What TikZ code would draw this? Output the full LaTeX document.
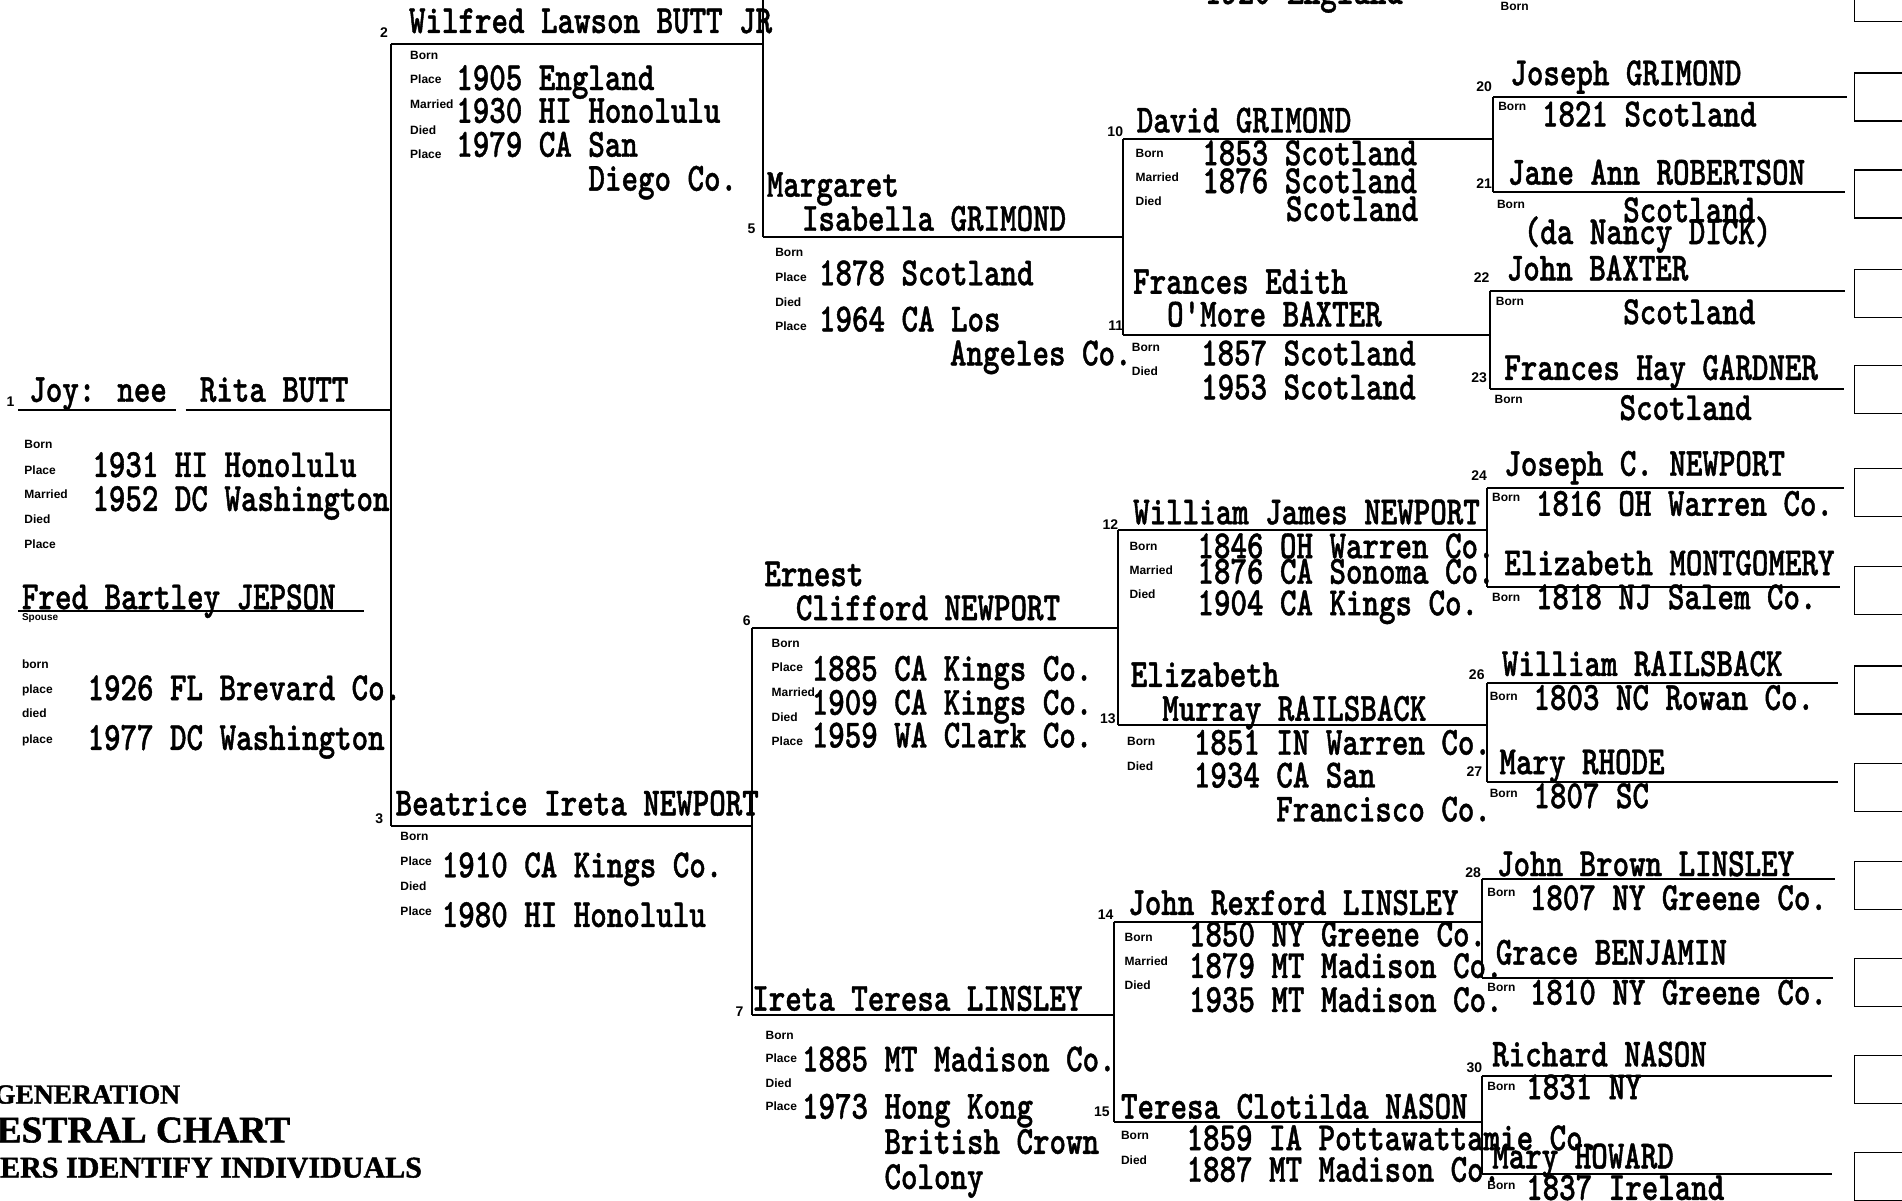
\documentclass[tikz,border=0pt]{standalone}
\usepackage{fontspec}
\usepackage{tikz}
\newfontfamily\twfam[Extension=.otf, FakeStretch=0.786, FakeBold=1]{lmmonolt10-bold}
\newfontfamily\labfam{Liberation Sans}
\newfontfamily\ttlfam[FakeBold=1.5]{Liberation Serif}
\newcommand{\twtext}{\twfam\fontsize{40pt}{40pt}\selectfont}
\newcommand{\labtext}{\labfam\bfseries\fontsize{12pt}{12pt}\selectfont}
\newcommand{\numtext}{\labfam\bfseries\fontsize{14pt}{14pt}\selectfont}
\tikzstyle{tw} = [font=\twtext, inner sep=0pt, anchor=mid west, yshift=-9pt]
\tikzstyle{lab} = [font=\labtext, inner sep=0pt, anchor=mid west]
\tikzstyle{idnum} = [font=\numtext, inner sep=0pt, anchor=mid east, yshift=-3pt]
\tikzstyle{chartline} = [line width=2pt]
\tikzstyle{refbox} = [draw, line width=1.5pt, minimum width=90pt, minimum height=48pt, inner sep=0pt, anchor=west]
\tikzstyle{titletext} = [font=\ttlfam\bfseries, inner sep=0pt, anchor=mid west, yshift=-6pt]

\begin{document}
\begin{tikzpicture}[x=1.213pt, y=-1.213pt]
\useasboundingbox (0,0) rectangle (1568,990);
\fill[white] (0,0) rectangle (1568,990);

% generation 1
\node (i1) [idnum] at (12,331) {1};
\node (n1) [tw] at (24,322) {Joy: nee\ \ Rita BUTT};
\coordinate (u1a) at (15,338);
\coordinate (u1b) at (145,338);
\coordinate (l1w) at (153,338);
\coordinate (l1e) at (322,338);
\node (k1a) [lab] at (20,368) {Born};
\node (k1b) [lab] at (20,389) {Place};
\node (k1c) [lab] at (20,409) {Married};
\node (k1d) [lab] at (20,430) {Died};
\node (k1e) [lab] at (20,450) {Place};
\node (d1a) [tw] at (76,384) {1931 HI Honolulu};
\node (d1b) [tw] at (76,412) {1952 DC Washington};
\node (nsp) [tw] at (18,493) {Fred Bartley JEPSON};
\coordinate (usa) at (15,504);
\coordinate (usb) at (300,504);
\node (ksp) [lab, font=\labfam\bfseries\fontsize{10pt}{10pt}\selectfont] at (18,510) {Spouse};
\node (ksa) [lab] at (18,549) {born};
\node (ksb) [lab] at (18,570) {place};
\node (ksc) [lab] at (18,590) {died};
\node (ksd) [lab] at (18,611) {place};
\node (dsa) [tw] at (72,568) {1926 FL Brevard Co.};
\node (dsb) [tw] at (72,609) {1977 DC Washington};

% generation 2
\node (i2) [idnum] at (320,27) {2};
\node (n2) [tw] at (337,18) {Wilfred Lawson BUTT JR};
\coordinate (l2w) at (322,36);
\coordinate (l2e) at (629,36);
\node (k2a) [lab] at (338,47) {Born};
\node (k2b) [lab] at (338,67) {Place};
\node (k2c) [lab] at (338,88) {Married};
\node (k2d) [lab] at (338,109) {Died};
\node (k2e) [lab] at (338,129) {Place};
\node (d2a) [tw] at (376,65) {1905 England};
\node (d2b) [tw] at (376,92) {1930 HI Honolulu};
\node (d2c) [tw] at (376,120) {1979 CA San};
\node (d2d) [tw] at (485,148) {Diego Co.};

\node (i3) [idnum] at (316,675) {3};
\node (n3) [tw] at (326,663) {Beatrice Ireta NEWPORT};
\coordinate (l3w) at (322,681);
\coordinate (l3e) at (620,681);
\node (k3a) [lab] at (330,691) {Born};
\node (k3b) [lab] at (330,712) {Place};
\node (k3c) [lab] at (330,732) {Died};
\node (k3d) [lab] at (330,753) {Place};
\node (d3a) [tw] at (364,714) {1910 CA Kings Co.};
\node (d3b) [tw] at (364,755) {1980 HI Honolulu};

% generation 3
\coordinate (l4w) at (629,-30);
\node (d4a) [tw] at (993,-6) {1920 England};

\node (n5a) [tw] at (632,153) {Margaret};
\node (n5b) [tw] at (661,181) {Isabella GRIMOND};
\node (i5) [idnum] at (623,188) {5};
\coordinate (l5w) at (629,195);
\coordinate (l5e) at (926,195);
\node (k5a) [lab] at (639,210) {Born};
\node (k5b) [lab] at (639,230) {Place};
\node (k5c) [lab] at (639,251) {Died};
\node (k5d) [lab] at (639,271) {Place};
\node (d5a) [tw] at (675,226) {1878 Scotland};
\node (d5b) [tw] at (675,264) {1964 CA Los};
\node (d5c) [tw] at (783,292) {Angeles Co.};

\node (n6a) [tw] at (630,474) {Ernest};
\node (n6b) [tw] at (656,502) {Clifford NEWPORT};
\node (i6) [idnum] at (619,511) {6};
\coordinate (l6w) at (620,518);
\coordinate (l6e) at (922,518);
\node (k6a) [lab] at (636,532) {Born};
\node (k6b) [lab] at (636,552) {Place};
\node (k6c) [lab] at (636,572) {Married};
\node (k6d) [lab] at (636,593) {Died};
\node (k6e) [lab] at (636,613) {Place};
\node (d6a) [tw] at (669,552) {1885 CA Kings Co.};
\node (d6b) [tw] at (669,580) {1909 CA Kings Co.};
\node (d6c) [tw] at (669,607) {1959 WA Clark Co.};

\node (n7) [tw] at (620,824) {Ireta Teresa LINSLEY};
\node (i7) [idnum] at (613,834) {7};
\coordinate (l7w) at (620,837);
\coordinate (l7e) at (918,837);
\node (k7a) [lab] at (631,855) {Born};
\node (k7b) [lab] at (631,874) {Place};
\node (k7c) [lab] at (631,895) {Died};
\node (k7d) [lab] at (631,914) {Place};
\node (d7a) [tw] at (661,874) {1885 MT Madison Co.};
\node (d7b) [tw] at (661,913) {1973 Hong Kong};
\node (d7c) [tw] at (729,942) {British Crown};
\node (d7d) [tw] at (729,971) {Colony};

% generation 4
\node (i10) [idnum] at (926,108) {10};
\node (n10) [tw] at (937,100) {David GRIMOND};
\coordinate (l10w) at (926,115);
\coordinate (l10e) at (1231,115);
\node (k10a) [lab] at (936,128) {Born};
\node (k10b) [lab] at (936,148) {Married};
\node (k10c) [lab] at (936,168) {Died};
\node (d10a) [tw] at (991,127) {1853 Scotland};
\node (d10b) [tw] at (991,150) {1876 Scotland};
\node (d10c) [tw] at (1060,173) {Scotland};

\node (n11a) [tw] at (934,233) {Frances Edith};
\node (n11b) [tw] at (962,260) {O'More BAXTER};
\node (i11) [idnum] at (926,268) {11};
\coordinate (l11w) at (926,276);
\coordinate (l11e) at (1228,276);
\node (k11a) [lab] at (933,288) {Born};
\node (k11b) [lab] at (933,308) {Died};
\node (d11a) [tw] at (990,292) {1857 Scotland};
\node (d11b) [tw] at (990,320) {1953 Scotland};

\node (i12) [idnum] at (922,432) {12};
\node (n12) [tw] at (934,423) {William James NEWPORT};
\coordinate (l12w) at (922,437);
\coordinate (l12e) at (1226,437);
\node (k12a) [lab] at (931,452) {Born};
\node (k12b) [lab] at (931,472) {Married};
\node (k12c) [lab] at (931,492) {Died};
\node (d12a) [tw] at (987,451) {1846 OH Warren Co.};
\node (d12b) [tw] at (987,472) {1876 CA Sonoma Co.};
\node (d12c) [tw] at (987,498) {1904 CA Kings Co.};

\node (n13a) [tw] at (932,557) {Elizabeth};
\node (n13b) [tw] at (958,585) {Murray RAILSBACK};
\node (i13) [idnum] at (920,592) {13};
\coordinate (l13w) at (922,598);
\coordinate (l13e) at (1226,598);
\node (k13a) [lab] at (929,613) {Born};
\node (k13b) [lab] at (929,633) {Died};
\node (d13a) [tw] at (984,613) {1851 IN Warren Co.};
\node (d13b) [tw] at (984,640) {1934 CA San};
\node (d13c) [tw] at (1052,668) {Francisco Co.};

\node (i14) [idnum] at (918,754) {14};
\node (n14) [tw] at (930,745) {John Rexford LINSLEY};
\coordinate (l14w) at (918,760);
\coordinate (l14e) at (1222,760);
\node (k14a) [lab] at (927,774) {Born};
\node (k14b) [lab] at (927,794) {Married};
\node (k14c) [lab] at (927,814) {Died};
\node (d14a) [tw] at (980,771) {1850 NY Greene Co.};
\node (d14b) [tw] at (980,797) {1879 MT Madison Co.};
\node (d14c) [tw] at (980,825) {1935 MT Madison Co.};

\node (i15) [idnum] at (915,916) {15};
\node (n15) [tw] at (924,913) {Teresa Clotilda NASON};
\coordinate (l15w) at (918,925);
\coordinate (l15e) at (1222,925);
\node (k15a) [lab] at (924,938) {Born};
\node (k15b) [lab] at (924,958) {Died};
\node (d15a) [tw] at (978,939) {1859 IA Pottawattamie Co.};
\node (d15b) [tw] at (978,965) {1887 MT Madison Co.};

% generation 5
\node (k19) [lab] at (1237,7) {Born};

\node (i20) [idnum] at (1230,71) {20};
\node (n20) [tw] at (1245,61) {Joseph GRIMOND};
\coordinate (l20w) at (1231,80);
\coordinate (l20e) at (1523,80);
\node (k20) [lab] at (1235,89) {Born};
\node (d20) [tw] at (1271,95) {1821 Scotland};

\node (i21) [idnum] at (1230,151) {21};
\node (n21) [tw] at (1243,143) {Jane Ann ROBERTSON};
\coordinate (l21w) at (1231,158);
\coordinate (l21e) at (1521,158);
\node (k21) [lab] at (1234,170) {Born};
\node (d21a) [tw] at (1338,174) {Scotland};
\node (d21b) [tw] at (1256,192) {(da Nancy DICK)};

\node (i22) [idnum] at (1228,229) {22};
\node (n22) [tw] at (1242,222) {John BAXTER};
\coordinate (l22w) at (1228,240);
\coordinate (l22e) at (1521,240);
\node (k22) [lab] at (1233,250) {Born};
\node (d22) [tw] at (1338,258) {Scotland};

\node (i23) [idnum] at (1226,311) {23};
\node (n23) [tw] at (1240,304) {Frances Hay GARDNER};
\coordinate (l23w) at (1228,321);
\coordinate (l23e) at (1520,321);
\node (k23) [lab] at (1232,331) {Born};
\node (d23) [tw] at (1335,337) {Scotland};

\node (i24) [idnum] at (1226,392) {24};
\node (n24) [tw] at (1240,383) {Joseph C. NEWPORT};
\coordinate (l24w) at (1226,402);
\coordinate (l24e) at (1520,402);
\node (k24) [lab] at (1230,412) {Born};
\node (d24) [tw] at (1266,416) {1816 OH Warren Co.};

\node (n25) [tw] at (1240,465) {Elizabeth MONTGOMERY};
\coordinate (l25w) at (1226,484);
\coordinate (l25e) at (1517,484);
\node (k25) [lab] at (1230,494) {Born};
\node (d25) [tw] at (1266,493) {1818 NJ Salem Co.};

\node (i26) [idnum] at (1224,556) {26};
\node (n26) [tw] at (1238,548) {William RAILSBACK};
\coordinate (l26w) at (1226,563);
\coordinate (l26e) at (1515,563);
\node (k26) [lab] at (1228,576) {Born};
\node (d26) [tw] at (1264,576) {1803 NC Rowan Co.};

\node (i27) [idnum] at (1222,636) {27};
\node (n27) [tw] at (1236,629) {Mary RHODE};
\coordinate (l27w) at (1226,645);
\coordinate (l27e) at (1515,645);
\node (k27) [lab] at (1228,656) {Born};
\node (d27) [tw] at (1264,657) {1807 SC};

\node (i28) [idnum] at (1221,719) {28};
\node (n28) [tw] at (1234,713) {John Brown LINSLEY};
\coordinate (l28w) at (1222,725);
\coordinate (l28e) at (1513,725);
\node (k28) [lab] at (1226,737) {Born};
\node (d28) [tw] at (1261,741) {1807 NY Greene Co.};

\node (n29) [tw] at (1233,786) {Grace BENJAMIN};
\coordinate (l29w) at (1222,806);
\coordinate (l29e) at (1511,806);
\node (k29) [lab] at (1226,816) {Born};
\node (d29) [tw] at (1261,819) {1810 NY Greene Co.};

\node (i30) [idnum] at (1222,880) {30};
\node (n30) [tw] at (1230,870) {Richard NASON};
\coordinate (l30w) at (1222,887);
\coordinate (l30e) at (1510,887);
\node (k30) [lab] at (1226,897) {Born};
\node (d30) [tw] at (1258,897) {1831 NY};

\node (n31) [tw] at (1230,954) {Mary HOWARD};
\coordinate (l31w) at (1222,968);
\coordinate (l31e) at (1510,968);
\node (k31) [lab] at (1226,979) {Born};
\node (d31) [tw] at (1258,980) {1837 Ireland};

% continuation boxes
\node (b19) [refbox] at (1528,-2) {};
\node (b20) [refbox] at (1528,80) {};
\node (b21) [refbox] at (1528,160) {};
\node (b22) [refbox] at (1528,242) {};
\node (b23) [refbox] at (1528,321) {};
\node (b24) [refbox] at (1528,406) {};
\node (b25) [refbox] at (1528,487) {};
\node (b26) [refbox] at (1528,569) {};
\node (b27) [refbox] at (1528,649) {};
\node (b28) [refbox] at (1528,730) {};
\node (b29) [refbox] at (1528,810) {};
\node (b30) [refbox] at (1528,890) {};
\node (b31) [refbox] at (1528,970) {};

% title
\node (t1) [titletext, font=\ttlfam\bfseries\fontsize{27.5pt}{27.5pt}\selectfont] at (-5,903) {GENERATION};
\node (t2) [titletext, font=\ttlfam\bfseries\fontsize{37.5pt}{37.5pt}\selectfont] at (-3,935) {ESTRAL CHART};
\node (t3) [titletext, font=\ttlfam\bfseries\fontsize{30pt}{30pt}\selectfont] at (0,964) {ERS IDENTIFY INDIVIDUALS};

% lines
\draw [chartline] (u1a) -- (u1b);
\draw [chartline] (l1w) -- (l1e);
\draw [chartline] (usa) -- (usb);
\draw [chartline] (l2w) -- (l2e);
\draw [chartline] (l3w) -- (l3e);
\draw [chartline] (l2w) -- (l3w);
\draw [chartline] (l4w) -- (l5w);
\draw [chartline] (l5w) -- (l5e);
\draw [chartline] (l6w) -- (l6e);
\draw [chartline] (l7w) -- (l7e);
\draw [chartline] (l6w) -- (l7w);
\draw [chartline] (l10w) -- (l10e);
\draw [chartline] (l11w) -- (l11e);
\draw [chartline] (l10w) -- (l11w);
\draw [chartline] (l12w) -- (l12e);
\draw [chartline] (l13w) -- (l13e);
\draw [chartline] (l12w) -- (l13w);
\draw [chartline] (l14w) -- (l14e);
\draw [chartline] (l15w) -- (l15e);
\draw [chartline] (l14w) -- (l15w);
\draw [chartline] (l20w) -- (l20e);
\draw [chartline] (l21w) -- (l21e);
\draw [chartline] (l20w) -- (l21w);
\draw [chartline] (l22w) -- (l22e);
\draw [chartline] (l23w) -- (l23e);
\draw [chartline] (l22w) -- (l23w);
\draw [chartline] (l24w) -- (l24e);
\draw [chartline] (l25w) -- (l25e);
\draw [chartline] (l24w) -- (l25w);
\draw [chartline] (l26w) -- (l26e);
\draw [chartline] (l27w) -- (l27e);
\draw [chartline] (l26w) -- (l27w);
\draw [chartline] (l28w) -- (l28e);
\draw [chartline] (l29w) -- (l29e);
\draw [chartline] (l28w) -- (l29w);
\draw [chartline] (l30w) -- (l30e);
\draw [chartline] (l31w) -- (l31e);
\draw [chartline] (l30w) -- (l31w);
\end{tikzpicture}
\end{document}
